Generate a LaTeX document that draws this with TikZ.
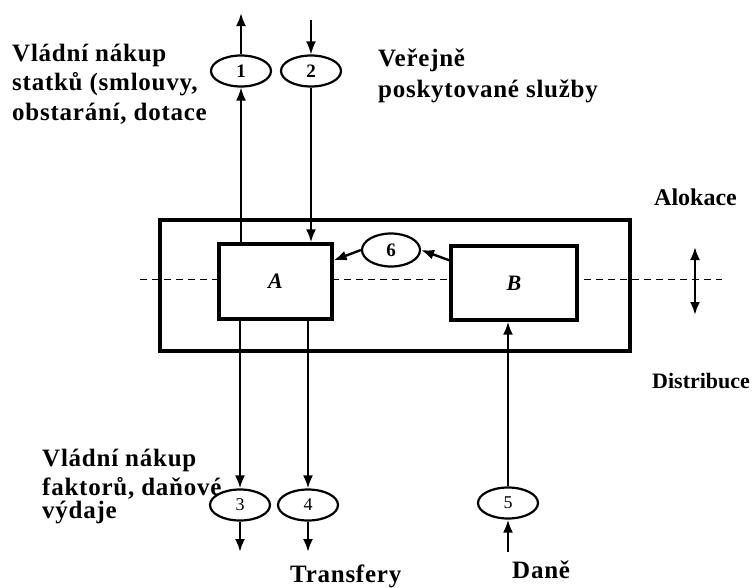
\documentclass[tikz,border=0pt]{standalone}
\usepackage{fontspec}
\setmainfont{Liberation Serif}
\newfontfamily\lblfont[LetterSpace=3]{Liberation Serif}
\usetikzlibrary{arrows.meta,shapes.geometric}
\begin{document}
\begin{tikzpicture}[x=1pt,y=-1pt,
  lbl/.style={font=\fontsize{25}{28}\lblfont\bfseries, anchor=base west, inner sep=0},
  num/.style={ellipse, draw, line width=2.2pt, minimum width=60pt, minimum height=31pt, inner sep=0, fill=white, font=\fontsize{19}{19}\selectfont\bfseries},
  numl/.style={num, font=\fontsize{18}{18}\selectfont},
  box/.style={draw, line width=3.3pt, fill=white, inner sep=0, font=\fontsize{22}{22}\selectfont\bfseries\itshape},
  tip/.style={-{Latex[length=13pt,width=10pt]}},
  arr/.style={line width=2.4pt, tip},
  thinarr/.style={line width=1.6pt, tip},
  dline/.style={line width=1pt, dash pattern=on 7pt off 5pt},
]
\useasboundingbox (0,0) rectangle (752,587);

% outer frame and dashed boundary
\draw[line width=3.3pt] (160,220) rectangle (630,351);
\coordinate (dl) at (140,279);
\coordinate (dr) at (722,279);
\draw[dline] (dl) -- (dr);

% boxes
\node[box, minimum width=113pt, minimum height=75pt] (A) at (275.5,281.5) {A};
\node[box, minimum width=126pt, minimum height=74pt] (B) at (514,283) {B};

% ellipses
\node[num] (e1) at (241,71) {1};
\node[num] (e2) at (311,71) {2};
\node[numl] (e3) at (240,505) {3};
\node[numl] (e4) at (308,505) {4};
\node[numl] (e5) at (508,503) {5};
\node[num, minimum width=58pt, minimum height=33pt] (e6) at (391,250) {6};

% free ends
\coordinate (top1) at (241,13);
\coordinate (top2) at (311,20);
\coordinate (bot3) at (240,552);
\coordinate (bot4) at (308,552);
\coordinate (bot5) at (508,552);
\coordinate (da1) at (695,247);
\coordinate (da2) at (695,315);

% connectors
\draw[thinarr] (A.north -| e1) -- (e1.south);
\draw[arr] (e1.north) -- (top1);
\draw[thinarr] (top2) -- (e2.north);
\draw[arr] (e2.south) -- (e2 |- A.north);
\draw[arr] (e3 |- A.south) -- (e3.north);
\draw[arr] (e4 |- A.south) -- (e4.north);
\draw[arr] (e3.south) -- (bot3);
\draw[arr] (e4.south) -- (bot4);
\draw[arr] (bot5) -- (e5.south);
\draw[arr] (e5.north) -- (e5 |- B.south);
\draw[arr] ([yshift=-16pt]B.north west) -- (e6.east);
\draw[arr] (e6.west) -- ([yshift=-18pt]A.north east);
\draw[line width=2.4pt, {Latex[length=13pt,width=10pt]}-{Latex[length=13pt,width=10pt]}] (da1) -- (da2);

% labels
\node[lbl] (t1) at (12,61) {Vládní nákup};
\node[lbl] (t2) at (12,90) {statků (smlouvy,};
\node[lbl] (t3) at (12,120) {obstarání, dotace};
\node[lbl] (t4) at (378,66) {Veřejně};
\node[lbl] (t5) at (378,97) {poskytované služby};
\node[lbl, font=\fontsize{24}{28}\selectfont\bfseries] (t6) at (654,205) {Alokace};
\node[lbl, font=\fontsize{22}{26}\selectfont\bfseries] (t7) at (652,388) {Distribuce};
\node[lbl] (t8) at (42,466) {Vládní nákup};
\node[lbl] (t9) at (42,495) {faktorů, daňové};
\node[lbl] (t10) at (42,518) {výdaje};
\node[lbl] (t11) at (290,582) {Transfery};
\node[lbl] (t12) at (512,578) {Daně};
\end{tikzpicture}
\end{document}
